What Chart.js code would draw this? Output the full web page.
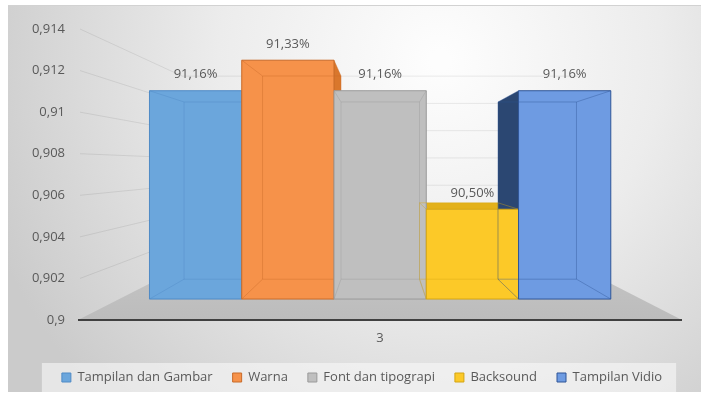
<!DOCTYPE html>
<html>
<head>
<meta charset="utf-8">
<script src="https://cdn.jsdelivr.net/npm/chart.js@4/dist/chart.umd.min.js"></script>
<style>
  html, body { margin: 0; padding: 0; background: #fff; }
  #wrap { width: 701px; height: 399px; }
</style>
</head>
<body>
<div id="wrap"><canvas id="bar-chart" width="701" height="399"></canvas></div>
<script>
const categories = ["3"];
const seriesNames = ["Tampilan dan Gambar", "Warna", "Font dan tipograpi", "Backsound", "Tampilan Vidio"];
const tampilanGambar = [0.9116];
const warna = [0.9133];
const fontTipograpi = [0.9116];
const backsound = [0.905];
const tampilanVidio = [0.9116];
const yTicks = [0.9, 0.902, 0.904, 0.906, 0.908, 0.91, 0.912, 0.914];
const yTickLabels = ["0,9", "0,902", "0,904", "0,906", "0,908", "0,91", "0,912", "0,914"];

const faceColors = ["#6ba6dc", "#f6924a", "#bfbfbf", "#fcc928", "#6e9be2"];
const sideColors = ["#4d88c6", "#d9772c", "#a3a3a3", "#e3b11a", "#2b4772"];
const edgeColors = ["#4f8ac6", "#c86a28", "#9a9a9a", "#d4a512", "#2f5597"];

// perspective: vanishing point and depth scales (front plane = 1)
const VX = 381, VY = 166;
const S_FRONT = 0.864, S_BACK = 0.735, S_WALL = 0.656;
const proj = (x, y, s) => [VX + s * (x - VX), VY + s * (y - VY)];
const LEGEND_SHIFT = 17;

const fmtPct = (v) => (v * 100).toFixed(2).replace(".", ",") + "%";

function poly(ctx, pts, fill, stroke) {
  ctx.beginPath();
  ctx.moveTo(pts[0][0], pts[0][1]);
  for (let i = 1; i < pts.length; i++) ctx.lineTo(pts[i][0], pts[i][1]);
  ctx.closePath();
  if (fill) { ctx.fillStyle = fill; ctx.fill(); }
  if (stroke) { ctx.strokeStyle = stroke; ctx.lineWidth = 1; ctx.stroke(); }
}

const depthPlugin = {
  id: "depth",
  afterLayout(chart) {
    // legend sits a bit right of centre in the original
    const lg = chart.legend;
    lg.left += LEGEND_SHIFT;
    lg.right += LEGEND_SHIFT;
    lg.legendHitBoxes.forEach(h => { h.left += LEGEND_SHIFT; });
  },
  beforeDraw(chart) {
    const { ctx, chartArea: a } = chart;
    ctx.save();
    ctx.fillStyle = "#fff";
    ctx.fillRect(0, 0, chart.width, chart.height);
    const g = ctx.createRadialGradient(440, 60, 10, 440, 60, 480);
    g.addColorStop(0, "#fdfdfd");
    g.addColorStop(0.45, "#ececec");
    g.addColorStop(1, "#cbcbcb");
    ctx.fillStyle = g;
    ctx.fillRect(8, 5, 693, 387);
    ctx.fillStyle = "#d2d2d2";
    ctx.fillRect(8, 5, 693, 1);

    // legend panel
    const hb = chart.legend.legendHitBoxes;
    if (hb && hb.length) {
      const l = Math.min(...hb.map(h => h.left)) - 20;
      const r = Math.max(...hb.map(h => h.left + h.width)) + 14;
      ctx.fillStyle = "rgba(248,248,248,0.6)";
      ctx.fillRect(l, hb[0].top + hb[0].height / 2 - 14.5, r - l, 29);
    }

    // side wall + back wall gridlines
    const ys = chart.scales.y;
    ctx.strokeStyle = "rgba(0,0,0,0.08)";
    ctx.lineWidth = 1;
    yTicks.slice(1).forEach(v => {
      const py = ys.getPixelForValue(v);
      const w1 = proj(a.left, py, S_WALL);
      const w2 = proj(a.right, py, S_WALL);
      ctx.beginPath();
      ctx.moveTo(a.left + 2, py);
      ctx.lineTo(w1[0], w1[1]);
      ctx.lineTo(w2[0], w2[1]);
      ctx.stroke();
    });

    // floor
    const f1 = proj(a.left, a.bottom, S_WALL);
    const f2 = proj(a.right, a.bottom, S_WALL);
    const fg = ctx.createLinearGradient(0, f1[1], 0, a.bottom);
    fg.addColorStop(0, "#c4c4c4");
    fg.addColorStop(1, "#bcbcbc");
    poly(ctx, [[a.left, a.bottom], [a.right, a.bottom], f2, f1], fg, null);

    // axis line
    ctx.strokeStyle = "#404040";
    ctx.lineWidth = 2;
    ctx.beginPath();
    ctx.moveTo(a.left, a.bottom);
    ctx.lineTo(a.right, a.bottom);
    ctx.stroke();
    ctx.restore();
  },
  beforeDatasetsDraw(chart) {
    const { ctx } = chart;
    const boxes = [];
    chart.data.datasets.forEach((ds, i) => {
      chart.getDatasetMeta(i).data.forEach((el, j) => {
        const { x, y, base, width } = el.getProps(["x", "y", "base", "width"], true);
        const x0 = x - width / 2, x1 = x + width / 2;
        boxes.push({
          i, value: ds.data[j],
          F: [proj(x0, y, S_FRONT), proj(x1, y, S_FRONT), proj(x1, base, S_FRONT), proj(x0, base, S_FRONT)],
          B: [proj(x0, y, S_BACK), proj(x1, y, S_BACK), proj(x1, base, S_BACK), proj(x0, base, S_BACK)]
        });
      });
    });
    ctx.save();
    // faces that show beside / above the front faces
    boxes.forEach(({ i, F, B }) => {
      if (B[0][0] < F[0][0]) poly(ctx, [F[0], F[3], B[3], B[0]], sideColors[i], null);
      if (B[1][0] > F[1][0]) poly(ctx, [F[1], B[1], B[2], F[2]], sideColors[i], null);
      if (B[0][1] < F[0][1]) poly(ctx, [F[0], F[1], B[1], B[0]], sideColors[i], null);
    });
    // front faces with see-through back edges
    boxes.forEach(({ i, F, B }) => {
      poly(ctx, F, faceColors[i], null);
      ctx.strokeStyle = edgeColors[i];
      ctx.globalAlpha = 0.4;
      ctx.lineWidth = 1;
      poly(ctx, B, null, edgeColors[i]);
      for (let k = 0; k < 4; k++) {
        ctx.beginPath();
        ctx.moveTo(F[k][0], F[k][1]);
        ctx.lineTo(B[k][0], B[k][1]);
        ctx.stroke();
      }
      ctx.globalAlpha = 1;
      poly(ctx, F, null, edgeColors[i]);
    });
    // value labels
    ctx.font = "13px 'Open Sans'";
    ctx.fillStyle = "#595959";
    ctx.textAlign = "center";
    ctx.textBaseline = "middle";
    boxes.forEach(({ value, F }) => {
      ctx.fillText(fmtPct(value), (F[0][0] + F[1][0]) / 2, F[0][1] - 16);
    });
    ctx.restore();
    return false;
  }
};

Chart.defaults.font.family = "'Open Sans', sans-serif";
Chart.defaults.font.size = 13;
Chart.defaults.color = "#595959";

const seriesValues = [tampilanGambar, warna, fontTipograpi, backsound, tampilanVidio];

new Chart(document.getElementById("bar-chart").getContext("2d"), {
  type: "bar",
  data: {
    labels: categories,
    datasets: seriesNames.map((name, i) => ({
      label: name,
      data: seriesValues[i],
      base: yTicks[0],
      backgroundColor: faceColors[i],
      borderColor: edgeColors[i],
      borderWidth: 1,
      categoryPercentage: 0.884,
      barPercentage: 1
    }))
  },
  options: {
    responsive: false,
    animation: false,
    layout: { padding: { left: 8, right: 19, top: 29, bottom: 5 } },
    plugins: {
      tooltip: { enabled: false },
      legend: {
        position: "bottom",
        labels: { boxWidth: 9, boxHeight: 9, padding: 20, color: "#595959", font: { size: 13 } }
      }
    },
    scales: {
      x: {
        grid: { display: false, drawTicks: false },
        border: { display: false },
        ticks: { padding: 10, color: "#595959" },
        afterFit: (scale) => { scale.height = 31; }
      },
      y: {
        min: 0.9,
        max: 0.914,
        grid: { display: false, drawTicks: false },
        border: { display: false },
        afterBuildTicks: (scale) => { scale.ticks = yTicks.map(v => ({ value: v })); },
        ticks: { padding: 13, color: "#595959", callback: (v, i) => yTickLabels[i] },
        afterFit: (scale) => { scale.width = 70; }
      }
    }
  },
  plugins: [depthPlugin]
});
</script>
</body>
</html>
